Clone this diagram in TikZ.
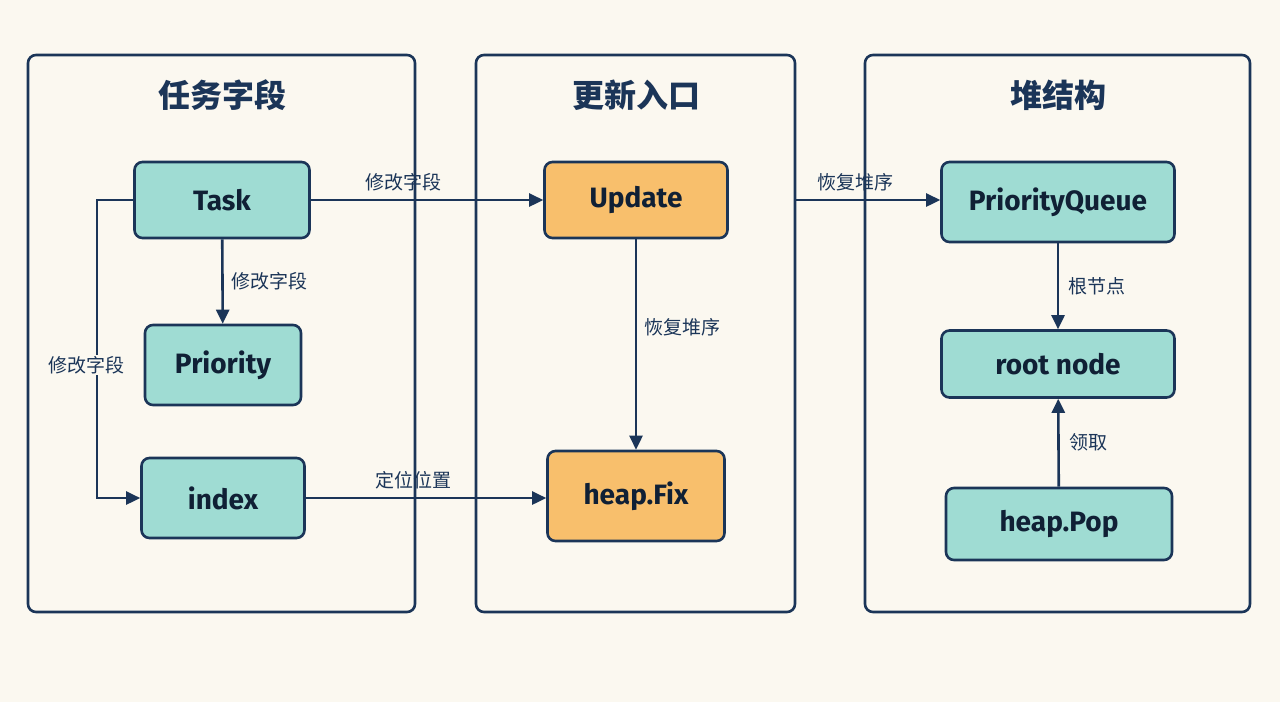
\documentclass[tikz,border=0pt]{standalone}
\usepackage{fontspec}
\setmainfont{Fira Sans}
\newfontfamily\cjk{Noto Sans CJK SC}
\usetikzlibrary{positioning, arrows.meta}
\definecolor{navy}{HTML}{1B3558}
\definecolor{teal}{HTML}{9FDCD3}
\definecolor{orng}{HTML}{F8BF6C}
\definecolor{cream}{HTML}{FBF8F0}

\begin{document}
\begin{tikzpicture}[x=1pt, y=-1pt,
    panel/.style=
    {draw=navy, line width=2.6pt, rounded corners=8pt},
    box/.style=
    {draw=navy, fill=teal, line width=2.6pt, rounded corners=8pt, font=\fontsize{28}{32}\selectfont\bfseries, text=navy!60!black},
    hot/.style=
    {box, fill=orng},
    title/.style=
    {font=\cjk\fontsize{32}{36}\selectfont\bfseries, text=navy},
    lbl/.style=
    {font=\cjk\fontsize{19}{22}\selectfont, text=navy},
    link/.style=
    {draw=navy, line width=2.6pt, -{Triangle[length=14pt, width=13pt]}}]
    \fill[cream] (0,0) rectangle (1280,702);
    \useasboundingbox (0,0) rectangle (1280,702);
    % panels
    \draw[panel] (28,55) rectangle (415,612);
    \draw[panel] (476,55) rectangle (795,612);
    \draw[panel] (865,55) rectangle (1250,612);
    \node[title] (t1) at (222,95) {任务字段};
    \node[title] (t2) at (636,95) {更新入口};
    \node[title] (t3) at (1058,95) {堆结构};
    % nodes
    \node (task) [box, minimum width=175pt, minimum height=76pt] at (222,200) {Task};
    \node (prio) [box, minimum width=156pt, minimum height=80pt] at (223,365) {Priority};
    \node (idx) [box, minimum width=163pt, minimum height=80pt] at (223,498) {index};
    \node (upd) [hot, minimum width=183pt, minimum height=76pt] at (636,200) {Update};
    \node (fix) [hot, minimum width=177pt, minimum height=90pt] at (636,496) {heap.Fix};
    \node (pq) [box, minimum width=233pt, minimum height=80pt] at (1058,202) {PriorityQueue};
    \node (root) [box, minimum width=233pt, minimum height=67pt] at (1058,364) {root node};
    \node (pop) [box, minimum width=226pt, minimum height=72pt] at (1059,524) {heap.Pop};
    \coordinate (edge) at (795,200);
    \coordinate (bend) at (97,200);
    % connectors
    \draw[link] (task.east) -- (upd.west) node[lbl, pos=.4, above=4pt] {修改字段};
    \draw[link] (task) -- (prio) node[lbl, midway, right=4pt] {修改字段};
    \draw[link] (task.west) -- (bend) |- (idx.west);
    \node[lbl, fill=cream, inner sep=1pt] (lleft) at (86,365) {修改字段};
    \draw[link] (idx.east) -- (idx.east -| fix.west) node[lbl, pos=.45, above=4pt] {定位位置};
    \draw[link] (upd) -- (fix) node[lbl, pos=.42, right=4pt] {恢复堆序};
    \draw[link] (edge) -- (edge -| pq.west) node[lbl, pos=.42, above=4pt] {恢复堆序};
    \draw[link] (pq) -- (root) node[lbl, midway, right=6pt] {根节点};
    \draw[link] (pop) -- (root) node[lbl, midway, right=6pt] {领取};
\end{tikzpicture}
\end{document}
